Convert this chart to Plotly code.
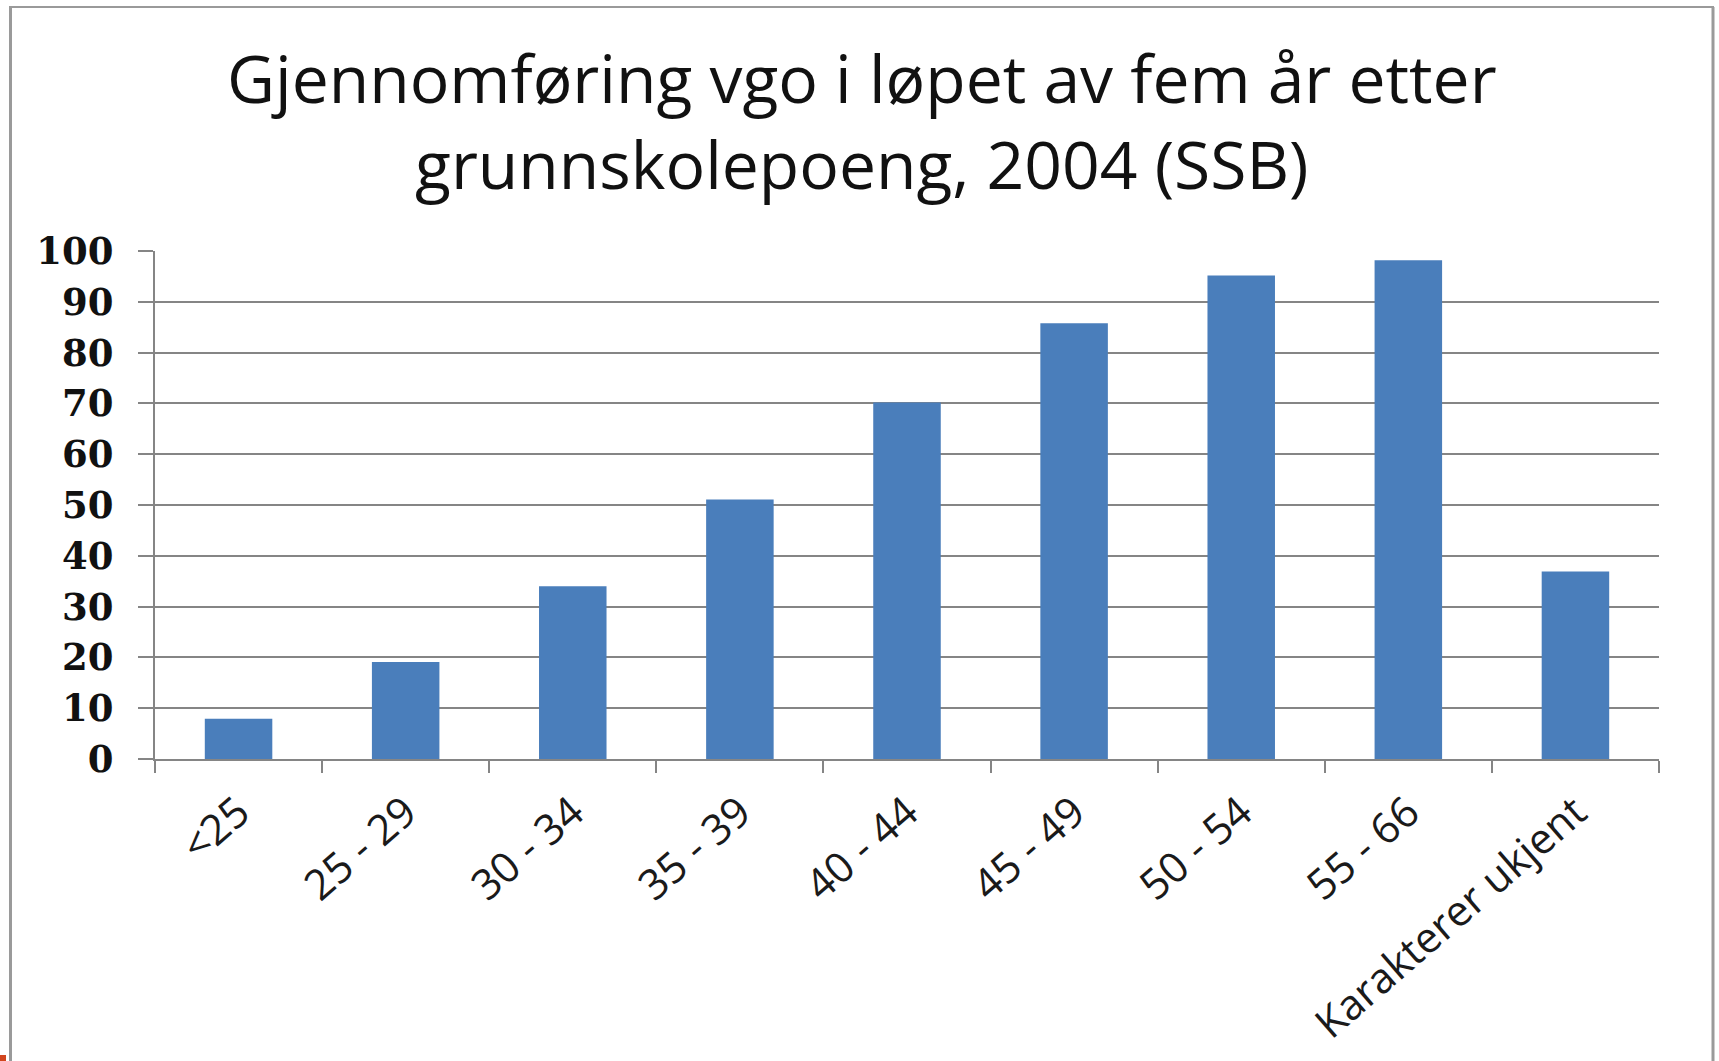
import plotly.graph_objects as go

# ---- data ----
categories = ["<25", "25 - 29", "30 - 34", "35 - 39", "40 - 44", "45 - 49",
              "50 - 54", "55 - 66", "Karakterer ukjent"]
values = [7.9, 19.1, 34.0, 51.1, 70.2, 85.8, 95.2, 98.2, 36.9]
y_ticks = [0, 10, 20, 30, 40, 50, 60, 70, 80, 90, 100]
title_lines = ["Gjennomføring vgo i løpet av fem år etter",
               "grunnskolepoeng, 2004 (SSB)"]

# ---- layout geometry (pixels) ----
W, H = 1719, 1061
ML, MR, MT, MB = 155, 60, 251, 302
PW, PH = W - ML - MR, H - MT - MB


def px(x):
    return (x - ML) / PW


def py(y):
    return (H - MB - y) / PH


GRID = "#858585"
BAR = "#4a7ebb"

fig = go.Figure(
    go.Bar(
        x=categories,
        y=values,
        marker=dict(color=BAR, line=dict(width=0)),
        width=0.404,
    )
)

frame = "#9a9a9a"
shapes = [
    dict(type="line", xref="paper", yref="paper", x0=px(10.5), x1=px(10.5),
         y0=py(7), y1=py(1080), line=dict(color=frame, width=3)),
    dict(type="line", xref="paper", yref="paper", x0=px(9), x1=px(1714),
         y0=py(7), y1=py(7), line=dict(color=frame, width=2)),
    dict(type="line", xref="paper", yref="paper", x0=px(1713), x1=px(1713),
         y0=py(7), y1=py(1080), line=dict(color=frame, width=3)),
    dict(type="rect", xref="paper", yref="paper", x0=px(0), x1=px(6),
         y0=py(1055), y1=py(1061), fillcolor="#d2451e", line=dict(width=0)),
]

annotations = [
    dict(text="<br>".join(title_lines), xref="paper", yref="paper",
         x=px(861.5), y=py(30), xanchor="center", yanchor="top",
         showarrow=False, align="center",
         font=dict(family="Open Sans", size=66, color="#111111")),
]

fig.update_layout(
    width=W, height=H,
    margin=dict(l=ML, r=MR, t=MT, b=MB, autoexpand=False),
    paper_bgcolor="white",
    plot_bgcolor="white",
    showlegend=False,
    shapes=shapes,
    annotations=annotations,
    xaxis=dict(
        type="category",
        showline=True, linecolor=GRID, linewidth=2,
        ticks="outside", ticklen=12, tickwidth=2, tickcolor=GRID,
        tickson="boundaries",
        showgrid=False,
        tickangle=-41,
        tickfont=dict(family="Open Sans", size=42, color="#1a1a1a"),
        ticklabelstandoff=10,
        range=[-0.5, len(categories) - 0.5],
    ),
    yaxis=dict(
        range=[0, 100],
        tickvals=y_ticks,
        ticktext=[str(v) for v in y_ticks],
        showline=True, linecolor=GRID, linewidth=2,
        ticks="outside", ticklen=15, tickwidth=2, tickcolor=GRID,
        showgrid=True, gridcolor=GRID, gridwidth=2,
        zeroline=False,
        tickfont=dict(family="DejaVu Serif", size=37, color="#111111",
                      weight="bold"),
        ticklabelstandoff=17,
    ),
)

fig.write_html(
    "out.html",
    config={"displayModeBar": False},
    post_script="document.body.style.margin='0';"
                "document.body.style.overflow='hidden';",
)
